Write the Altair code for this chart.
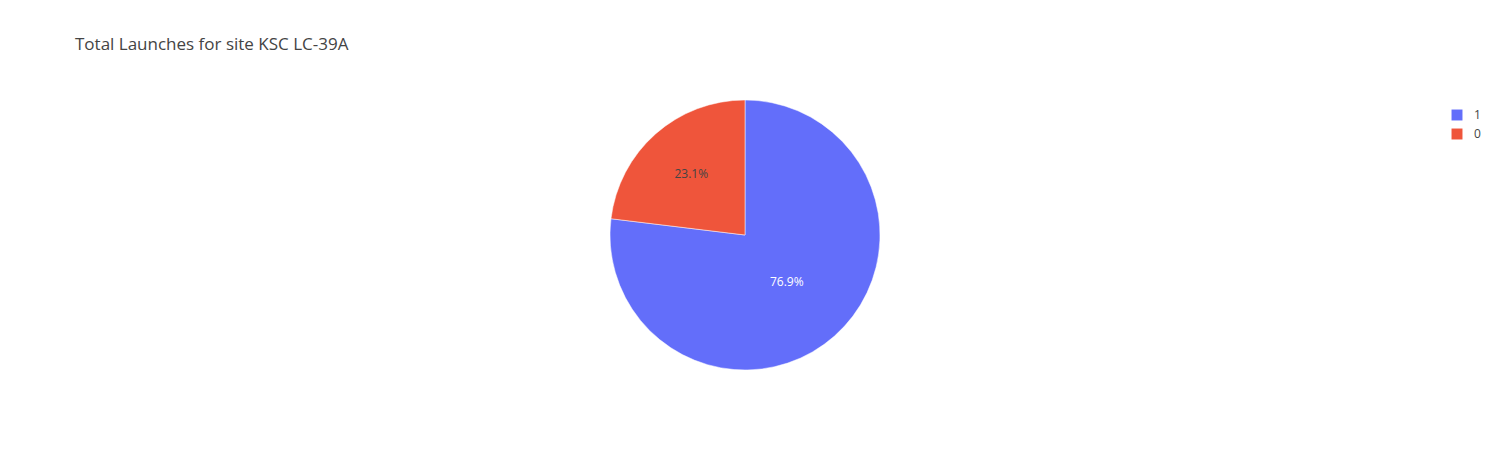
import altair as alt
import pandas as pd

classes = ["1", "0"]
counts = [10, 3]
colors = ["#636efa", "#EF553B"]

df = pd.DataFrame({"cls": classes, "count": counts, "order": [0, 1]})
tot = sum(counts)
df["pct"] = [f"{c / tot * 100:.1f}%" for c in counts]

W, H = 1487, 434
CX, CY, R = 737, 227, 135

color = alt.Color("cls:N", scale=alt.Scale(domain=classes, range=colors), legend=None)
base = alt.Chart(df)

arc = base.mark_arc(radius=R, stroke="white", strokeWidth=0.5).encode(
    theta=alt.Theta("count:Q", stack=True), color=color,
    order=alt.Order("order:Q"), x=alt.value(CX), y=alt.value(CY))

def lab(c, r, fill):
    return base.mark_text(radius=r, fontSize=12, font="Open Sans", fill=fill).encode(
        theta=alt.Theta("count:Q", stack=True), order=alt.Order("order:Q"),
        text="pct:N", x=alt.value(CX), y=alt.value(CY)
    ).transform_filter(alt.datum.cls == c)

# Note: filter breaks stacking, so compute theta via window instead
df2 = df.copy()
lab_layers = []
for c, r, fill in [("1", 63, "white"), ("0", 81, "#444")]:
    t = (base.transform_joinaggregate(total="sum(count)")
         .transform_window(cum="sum(count)", sort=[alt.SortField("order")])
         .transform_calculate(mid="(datum.cum - datum.count/2)/datum.total*2*PI")
         .transform_filter(alt.datum.cls == c)
         .mark_text(fontSize=12, font="Open Sans", fill=fill)
         .encode(text="pct:N",
                 x=alt.X("mx:Q", scale=None), y=alt.Y("my:Q", scale=None))
         .transform_calculate(mx=f"{CX} + {r}*sin(datum.mid)", my=f"{CY} - {r}*cos(datum.mid)"))
    lab_layers.append(t)

title = alt.Chart(pd.DataFrame({"t": ["Total Launches for site KSC LC-39A"]})).mark_text(
    align="left", baseline="middle", fontSize=17, font="Open Sans", color="#444").encode(
    text="t:N", x=alt.value(67), y=alt.value(37))

leg = pd.DataFrame({"cls": classes, "i": [0, 1]})
legsq = alt.Chart(leg).mark_square(size=120, opacity=1).encode(
    x=alt.value(1449), y=alt.Y("i:Q", scale=None), color=color
).transform_calculate(i="107 + datum.i*19")
legtx = alt.Chart(leg).mark_text(align="left", baseline="middle", fontSize=12,
                                 font="Open Sans", color="#444").encode(
    x=alt.value(1466), y=alt.Y("i:Q", scale=None), text="cls:N"
).transform_calculate(i="107 + datum.i*19")

chart = alt.layer(arc, *lab_layers, title, legsq, legtx).properties(
    width=W, height=H, padding=0, autosize="none"
).configure_view(stroke=None)

chart.save("out.html", embed_options={"renderer": "svg", "actions": False})
